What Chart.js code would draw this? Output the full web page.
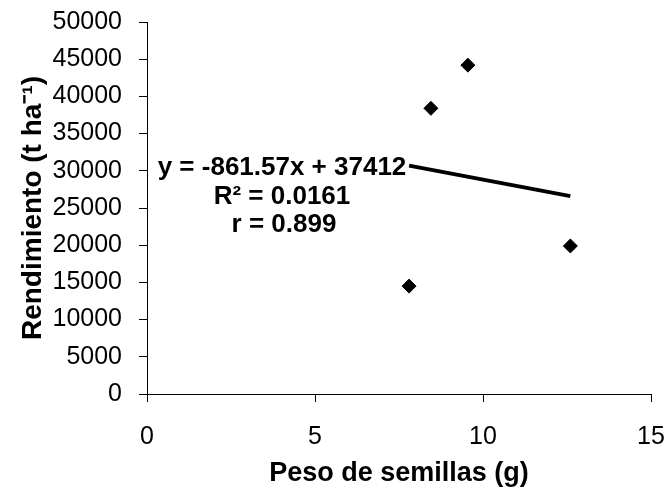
<!DOCTYPE html>
<html>
<head>
<meta charset="utf-8">
<script src="https://cdn.jsdelivr.net/npm/chart.js@4/dist/chart.umd.min.js"></script>
<style>
  html, body { margin: 0; padding: 0; background: #fff; }
  #wrap { width: 669px; height: 493px; }
</style>
</head>
<body>
<div id="wrap"><canvas id="chart" width="669" height="493"></canvas></div>
<script>
// Peso de semillas (g) vs rendimiento
const pesoSemillas = [7.8, 8.45, 9.55, 12.6];
const rendimiento = [14500, 38400, 44200, 19900];

// extremos de la línea de tendencia
const tendenciaX = [7.8, 12.6];
const tendenciaY = [30700, 26600];

const xTicks = [0, 5, 10, 15];
const yTicks = [0, 5000, 10000, 15000, 20000, 25000, 30000, 35000, 40000, 45000, 50000];

const ecuacion = ["y = -861.57x + 37412", "R² = 0.0161", "r = 0.899"];

const tickFont = { family: "'Liberation Sans', Arial, sans-serif", size: 25 };
const titleFont = { family: "'Liberation Sans', Arial, sans-serif", size: 27, weight: "bold" };

// Texto de la ecuación sobre el gráfico
const ecuacionPlugin = {
  id: "ecuacion",
  afterDatasetsDraw(chart) {
    const { ctx, chartArea } = chart;
    const cx = chartArea.left + 135;
    const top = chartArea.top + 146;
    ctx.save();
    ctx.font = "bold 26px 'Liberation Sans', Arial, sans-serif";
    ctx.fillStyle = "#000";
    ctx.textAlign = "center";
    ctx.textBaseline = "middle";
    ecuacion.forEach((t, i) => {
      ctx.fillText(t, cx + (i === 2 ? 2 : 0), top + i * 28.5);
    });
    ctx.restore();
  },
};

new Chart(document.getElementById("chart"), {
  type: "scatter",
  data: {
    datasets: [
      {
        data: pesoSemillas.map((x, i) => ({ x, y: rendimiento[i] })),
        pointStyle: "rectRot",
        pointRadius: 7,
        pointBackgroundColor: "#000",
        pointBorderColor: "#000",
        pointBorderWidth: 1,
      },
      {
        type: "line",
        data: tendenciaX.map((x, i) => ({ x, y: tendenciaY[i] })),
        borderColor: "#000",
        borderWidth: 4,
        pointRadius: 0,
        fill: false,
      },
    ],
  },
  options: {
    responsive: false,
    animation: false,
    layout: { padding: { top: 22, right: 18, bottom: 0, left: 0 } },
    plugins: {
      legend: { display: false },
      tooltip: { enabled: false },
    },
    scales: {
      x: {
        type: "linear",
        min: 0,
        max: 15,
        afterBuildTicks: (s) => { s.ticks = xTicks.map((v) => ({ value: v })); },
        afterFit: (s) => {
          s.height = 99;
          s.paddingLeft = 0;
          s.paddingRight = 0;
        },
        border: { display: true, color: "#000", width: 1 },
        grid: { drawOnChartArea: false, drawTicks: true, tickLength: 8, tickColor: "#000" },
        ticks: { color: "#000", font: tickFont, padding: 20, maxRotation: 0, callback: (v) => String(v) },
        title: {
          display: true,
          text: "Peso de semillas (g)",
          color: "#000",
          font: titleFont,
          padding: { top: 0, bottom: 3 },
        },
      },
      y: {
        type: "linear",
        min: 0,
        max: 50000,
        afterBuildTicks: (s) => { s.ticks = yTicks.map((v) => ({ value: v })); },
        afterFit: (s) => {
          s.width = 147;
          s.paddingTop = 0;
          s.paddingBottom = 0;
        },
        border: { display: true, color: "#000", width: 1 },
        grid: { drawOnChartArea: false, drawTicks: true, tickLength: 8, tickColor: "#000" },
        ticks: { color: "#000", font: tickFont, padding: 17, callback: (v) => String(v) },
        title: {
          display: true,
          text: "Rendimiento (t ha⁻¹)",
          color: "#000",
          font: { ...titleFont, size: 28 },
          padding: { top: 16, bottom: 0 },
        },
      },
    },
  },
  plugins: [ecuacionPlugin],
});
</script>
</body>
</html>
